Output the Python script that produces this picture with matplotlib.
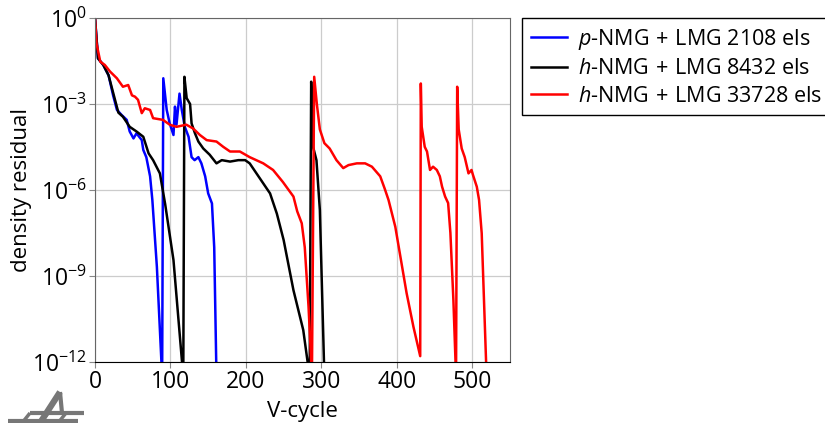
import numpy as np
import matplotlib
matplotlib.use('Agg')
import matplotlib.pyplot as plt
from matplotlib.lines import Line2D

plt.rcParams['font.family'] = ['Open Sans', 'DejaVu Sans']
plt.rcParams['mathtext.fontset'] = 'custom'
plt.rcParams['mathtext.rm'] = 'Open Sans'
plt.rcParams['mathtext.it'] = 'Open Sans:italic'

# p-NMG + LMG, 2108 elements
blue_cyc = [0, 4, 11, 18, 24, 29, 35, 42, 46, 51, 55, 62, 64, 68, 73, 76, 82, 89,
            90.5, 95, 99, 104, 106, 108, 112, 115, 119, 124, 128, 132, 137, 141,
            146, 150, 155, 158, 161]
blue_res = [1.0, 3.9e-2, 2.3e-2, 1.0e-2, 2.0e-3, 6.3e-4, 4.2e-4, 2.8e-4, 1.1e-4,
            6.3e-5, 9.5e-5, 5.5e-5, 2.5e-5, 1.4e-5, 3.0e-6, 4.5e-7, 2.1e-9, 3e-13,
            7.9e-3, 6.3e-4, 2.1e-4, 8.3e-5, 8.1e-4, 1.9e-4, 2.3e-3, 6.3e-4, 1.6e-4,
            7.2e-5, 1.4e-5, 1.1e-5, 1.4e-5, 8.5e-6, 3.0e-6, 7.6e-7, 3.4e-7, 1.0e-8,
            3e-13]

# h-NMG + LMG, 8432 elements
black_cyc = [0, 4, 11, 18, 24, 31, 37, 46, 55, 64, 71, 77, 86, 93, 104, 117,
             118.5, 121.5, 126, 128, 132.5, 137, 143.5, 152, 161, 168, 179, 190,
             199, 205, 214, 223, 232, 241, 250, 263, 276, 284.5,
             286.5, 289, 293.5, 298, 304]
black_res = [1.0, 3.9e-2, 2.3e-2, 1.0e-2, 2.5e-3, 5.0e-4, 3.6e-4, 1.6e-4, 1.1e-4,
             7.2e-5, 1.9e-5, 1.1e-5, 3.8e-6, 3.2e-7, 3.6e-9, 3e-13,
             8.9e-3, 1.6e-3, 1.0e-3, 2.1e-4, 9.5e-5, 4.9e-5, 2.8e-5, 1.7e-5, 8.5e-6,
             1.1e-5, 9.8e-6, 1.1e-5, 1.1e-5, 8.5e-6, 3.8e-6, 1.7e-6, 7.6e-7, 1.5e-7,
             1.8e-8, 3.2e-10, 1.3e-11, 3e-13,
             6.0e-3, 3.2e-5, 1.1e-5, 2.0e-7, 3e-13]

# h-NMG + LMG, 33728 elements
red_cyc = [0, 2, 7, 13, 20, 29, 37, 44, 49, 53, 57, 62, 66, 73, 77, 90, 99, 108,
           121, 130, 139, 148, 161, 170, 179, 192, 205, 223, 236, 249, 263, 268,
           274, 278, 283, 287.5,
           290.5, 294, 298, 304, 311, 320, 329, 336, 347, 358, 367, 378, 384, 389,
           398, 413, 422, 431,
           431.8, 433, 437, 440, 444, 448, 453, 457, 460, 464, 468, 471, 475, 478.5,
           480, 482, 486, 490, 495, 499, 501, 506, 509, 512.5, 519]
red_res = [1.0, 0.13, 3.0e-2, 2.3e-2, 1.35e-2, 7.9e-3, 4.0e-3, 4.6e-3, 2.0e-3,
           1.8e-3, 1.4e-3, 4.8e-4, 7.1e-4, 6.2e-4, 3.2e-4, 2.8e-4, 1.9e-4, 1.6e-4,
           1.9e-4, 1.4e-4, 8.3e-5, 5.5e-5, 4.9e-5, 3.2e-5, 2.2e-5, 2.2e-5, 1.4e-5,
           8.5e-6, 5.0e-6, 1.9e-6, 5.9e-7, 1.8e-7, 6.9e-8, 1.0e-8, 8.5e-11, 3e-13,
           8.9e-3, 1.0e-3, 1.3e-4, 4.3e-5, 2.8e-5, 1.1e-5, 5.8e-6, 7.4e-6, 8.5e-6,
           8.5e-6, 6.5e-6, 3.0e-6, 1.1e-6, 4.5e-7, 5.2e-8, 2.5e-10, 1.7e-11, 1.6e-12,
           5.2e-3, 1.6e-4, 3.2e-5, 2.2e-5, 5.0e-6, 6.5e-6, 5.0e-6, 3.0e-6, 1.3e-6,
           5.9e-7, 3.5e-7, 3.2e-8, 1.4e-10, 3e-13,
           4.0e-3, 1.3e-4, 2.8e-5, 1.4e-5, 3.8e-6, 5.0e-6, 3.3e-6, 1.3e-6, 4.5e-7,
           3.1e-8, 3e-13]

labels = [r'$p$-NMG$\,+\,$LMG 2108 els',
          r'$h$-NMG$\,+\,$LMG 8432 els',
          r'$h$-NMG$\,+\,$LMG 33728 els']

fig = plt.figure(figsize=(8.25, 4.23), dpi=100)
ax = fig.add_axes([95/825, 1-362/423, 415/825, 344/423])

ax.plot(blue_cyc, blue_res, color='#0000ff', lw=1.8, label=labels[0])
ax.plot(black_cyc, black_res, color='black', lw=1.8, label=labels[1])
ax.plot(red_cyc, red_res, color='#ff0000', lw=1.8, label=labels[2])

ax.set_yscale('log')
ax.set_xlim(0, 550)
ax.set_ylim(1e-12, 1e0)
ax.set_xticks([0, 100, 200, 300, 400, 500])
ax.set_yticks([1e-12, 1e-9, 1e-6, 1e-3, 1e0])
ax.minorticks_off()
ax.grid(True, color='#cccccc', lw=0.9)
ax.set_axisbelow(True)
ax.tick_params(labelsize=16.5, color='#888888', length=4, width=0.8, pad=2)
for s in ['top', 'right', 'left']:
    ax.spines[s].set_color('#666666')
ax.spines['bottom'].set_color('black')
ax.set_xlabel('V-cycle', fontsize=16, labelpad=5)
ax.set_ylabel('density residual', fontsize=16, labelpad=0)

leg = ax.legend(loc='upper left', bbox_to_anchor=(522/825, 1-18/423),
                bbox_transform=fig.transFigure, fontsize=15.5, frameon=True,
                fancybox=False, edgecolor='black', framealpha=1,
                handlelength=1.7, borderpad=0.4, labelspacing=0.3,
                handletextpad=0.5, borderaxespad=0)
leg.get_frame().set_linewidth(1.0)

# logo fragment, bottom left corner
W, H = 825, 423
def seg(x0, y0, x1, y1, lw=3.2):
    fig.add_artist(Line2D([x0/W, x1/W], [1-y0/H, 1-y1/H], color='#777777',
                          lw=lw, solid_capstyle='butt', transform=fig.transFigure))
seg(60, 392, 40, 423, 4.5)
seg(60, 392, 62, 413, 3)
seg(30, 413, 84, 413, 3)
seg(8, 421, 78, 421, 3)
for xb in [30, 48, 66]:
    seg(xb, 413, xb - 8, 423, 2.5)

fig.savefig('out.png', dpi=100)
